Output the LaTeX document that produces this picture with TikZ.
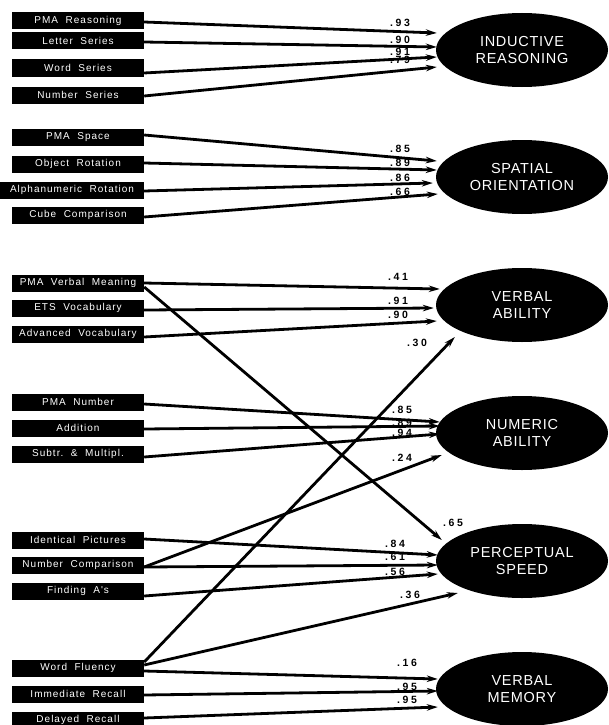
\documentclass[tikz,border=0pt]{standalone}
\usepackage{fontspec}
\setmainfont{Liberation Sans}
\newfontfamily\boxfont[LetterSpace=10]{Liberation Sans}
\newfontfamily\ellfont[LetterSpace=5]{Liberation Sans}
\newfontfamily\numfont[LetterSpace=25]{Liberation Sans}
\usetikzlibrary{arrows.meta,shapes.geometric}
\tikzset{
  obs/.style={fill=black, text=white, inner sep=0pt, minimum height=17pt, minimum width=132pt,
    font=\boxfont\fontsize{10}{11}\selectfont},
  lat/.style={ellipse, fill=black, text=white, inner sep=0pt, minimum width=172pt, minimum height=74pt,
    align=center, font=\ellfont\fontsize{14.5}{17.5}\selectfont},
  arr/.style={line width=2.8pt, -{Stealth[length=11pt,width=6.5pt]}},
  coef/.style={font=\numfont\bfseries\fontsize{10.5}{11}\selectfont, inner sep=0pt},
}
\newcommand\bt[1]{\makebox[0pt][c]{#1}}
\begin{document}
\begin{tikzpicture}[x=1pt,y=-1pt]
\useasboundingbox (0,0) rectangle (609,725);
% observed boxes
\node[obs] (pr) at (78,21) {\bt{PMA~~Reasoning}};
\node[obs] (ls) at (78,41) {\bt{Letter~~Series}};
\node[obs] (ws) at (78,68) {\bt{Word~~Series}};
\node[obs] (ns) at (78,95) {\bt{Number~~Series}};
\node[obs] (ps) at (78,137) {\bt{PMA~~Space}};
\node[obs] (or) at (78,164) {\bt{Object~~Rotation}};
\node[obs, minimum width=144pt] (ar) at (72,190) {\bt{Alphanumeric~~Rotation}};
\node[obs] (cc) at (78,215) {\bt{Cube~~Comparison}};
\node[obs] (vm) at (78,283) {\bt{PMA~~Verbal~~Meaning}};
\node[obs] (ev) at (78,308) {\bt{ETS~~Vocabulary}};
\node[obs] (av) at (78,334) {\bt{Advanced~~Vocabulary}};
\node[obs] (pn) at (78,402) {\bt{PMA~~Number}};
\node[obs] (ad) at (78,428) {\bt{Addition}};
\node[obs] (sm) at (78,454) {\bt{Subtr.~~\&~~Multipl.}};
\node[obs] (ip) at (78,540) {\bt{Identical~~Pictures}};
\node[obs] (nc) at (78,565) {\bt{Number~~Comparison}};
\node[obs] (fa) at (78,591) {\bt{Finding~~A's}};
\node[obs] (wf) at (78,668) {\bt{Word~~Fluency}};
\node[obs] (ir) at (78,694) {\bt{Immediate~~Recall}};
\node[obs] (dr) at (78,720) {\bt{Delayed~~Recall}};
% latent ellipses
\node[lat] (IR) at (522,50) {INDUCTIVE\\REASONING};
\node[lat] (SO) at (522,177) {SPATIAL\\ORIENTATION};
\node[lat] (VA) at (522,305) {VERBAL\\ABILITY};
\node[lat] (NA) at (522,433) {NUMERIC\\ABILITY};
\node[lat] (PS) at (522,561) {PERCEPTUAL\\SPEED};
\node[lat] (VM) at (522,689) {VERBAL\\MEMORY};
% coefficients
\node[coef] (c1) at (400,23) {.93};
\node[coef] (c2) at (400,40) {.90};
\node[coef] (c3) at (400,52) {.91};
\node[coef] (c4) at (400,60) {.79};
\node[coef] (c5) at (400,149) {.85};
\node[coef] (c6) at (400,163) {.89};
\node[coef] (c7) at (400,178) {.86};
\node[coef] (c8) at (400,192) {.66};
\node[coef] (c9) at (398,277) {.41};
\node[coef] (c10) at (398,301) {.91};
\node[coef] (c11) at (398,315) {.90};
\node[coef] (c12) at (417,343) {.30};
\node[coef] (c13) at (402,410) {.85};
\node[coef] (c14) at (402,423) {.89};
\node[coef] (c15) at (402,433) {.94};
\node[coef] (c16) at (402,458) {.24};
\node[coef] (c17) at (453,523) {.65};
\node[coef] (c18) at (395,544) {.84};
\node[coef] (c19) at (395,557) {.61};
\node[coef] (c20) at (395,572) {.56};
\node[coef] (c21) at (410,595) {.36};
\node[coef] (c22) at (407,663) {.16};
\node[coef] (c23) at (407,687) {.95};
\node[coef] (c24) at (407,700) {.95};
% connectors
\draw[arr] ([yshift=-1pt]pr.east) -- ([xshift=1pt,yshift=17pt]IR.west);
\draw[arr] ([yshift=-1pt]ls.east) -- ([xshift=1pt,yshift=3pt]IR.west);
\draw[arr] ([yshift=-5pt]ws.east) -- ([xshift=1pt,yshift=-7pt]IR.west);
\draw[arr] ([yshift=-1pt]ns.east) -- ([xshift=1pt,yshift=-17pt]IR.west);
\draw[arr] ([yshift=2pt]ps.east) -- ([xshift=1pt,yshift=16pt]SO.west);
\draw[arr] ([yshift=1pt]or.east) -- ([xshift=1pt,yshift=7pt]SO.west);
\draw[arr] ([yshift=-1pt]ar.east) -- ([xshift=-3pt,yshift=-6pt]SO.west);
\draw[arr] ([yshift=-2pt]cc.east) -- ([xshift=2pt,yshift=-17pt]SO.west);
\draw[arr] ([yshift=0pt]vm.east) -- ([xshift=4pt,yshift=16pt]VA.west);
\draw[arr] ([yshift=-2pt]ev.east) -- ([xshift=-2pt,yshift=-3pt]VA.west);
\draw[arr] ([yshift=-3pt]av.east) -- ([xshift=1pt,yshift=-16pt]VA.west);
\draw[arr] ([yshift=6pt]wf.east) -- ([xshift=19pt,yshift=-32pt]VA.west);
\draw[arr] ([yshift=-2pt]pn.east) -- ([xshift=4pt,yshift=11pt]NA.west);
\draw[arr] ([yshift=-1pt]ad.east) -- ([xshift=4pt,yshift=7pt]NA.west);
\draw[arr] ([yshift=-3pt]sm.east) -- ([xshift=4pt,yshift=-1pt]NA.west);
\draw[arr] ([yshift=-2pt]nc.east) -- ([xshift=6pt,yshift=-22pt]NA.west);
\draw[arr] ([yshift=-4pt]vm.east) -- ([xshift=6pt,yshift=21pt]PS.west);
\draw[arr] ([yshift=1pt]ip.east) -- ([xshift=2pt,yshift=6pt]PS.west);
\draw[arr] ([yshift=-2pt]nc.east) -- ([xshift=2pt,yshift=-4pt]PS.west);
\draw[arr] ([yshift=-5pt]fa.east) -- ([xshift=2pt,yshift=-13pt]PS.west);
\draw[arr] ([yshift=3pt]wf.east) -- ([xshift=22pt,yshift=-32pt]PS.west);
\draw[arr] ([yshift=-3pt]wf.east) -- ([xshift=2pt,yshift=10pt]VM.west);
\draw[arr] ([yshift=-1pt]ir.east) -- ([xshift=2pt,yshift=-2pt]VM.west);
\draw[arr] ([yshift=2pt]dr.east) -- ([xshift=2pt,yshift=-18pt]VM.west);
\end{tikzpicture}
\end{document}
